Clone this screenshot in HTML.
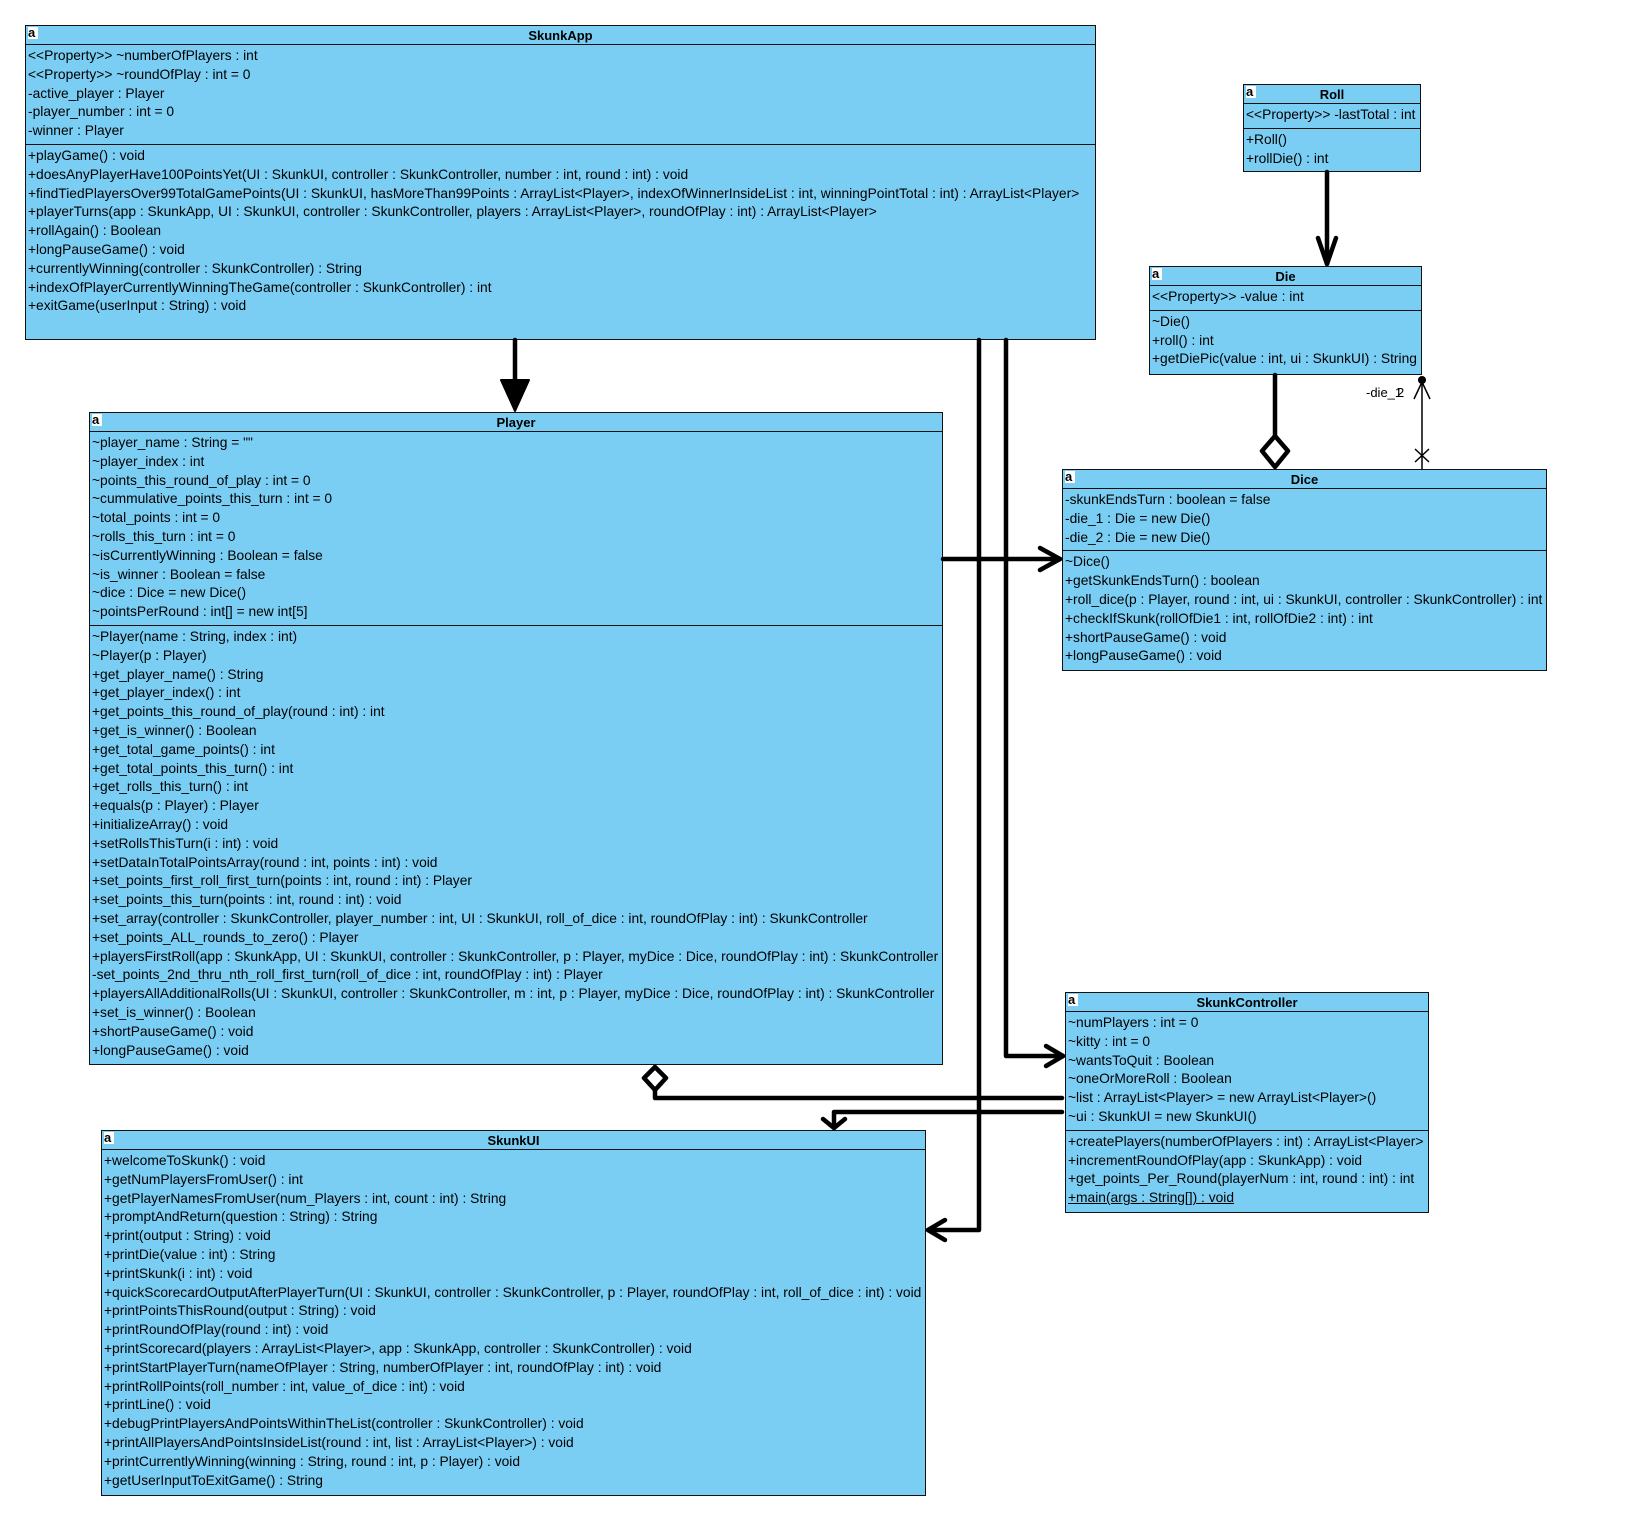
<!DOCTYPE html>
<html><head><meta charset="utf-8"><style>
body{margin:0;width:1639px;height:1533px;background:#fff;position:relative;overflow:hidden;font-family:"Liberation Sans",Arial,sans-serif;}
.c{position:absolute;background:#7ACEF4;border:1px solid #111;box-sizing:border-box;}
.h{height:18px;border-bottom:1px solid #111;text-align:center;font-weight:bold;font-size:13px;line-height:19px;position:relative;}
.h i{position:absolute;left:2px;top:1px;width:10px;height:12px;background:#fff;font-style:normal;font-weight:bold;font-size:13px;line-height:11px;color:#000;text-align:left;}
.s{padding:2px 0 3px 2px;font-size:13.8px;line-height:18.8px;white-space:nowrap;letter-spacing:0px;}
.s+.s{border-top:1px solid #111;}
.s div{height:18.8px;}
u{text-decoration:underline;}
svg{position:absolute;left:0;top:0;}
</style></head><body>

<div class="c" style="left:25px;top:25px;width:1071px;height:315px">
<div class="h"><i>a</i>SkunkApp</div>
<div class="s">
<div>&lt;&lt;Property&gt;&gt; ~numberOfPlayers : int</div>
<div>&lt;&lt;Property&gt;&gt; ~roundOfPlay : int = 0</div>
<div>-active_player : Player</div>
<div>-player_number : int = 0</div>
<div>-winner : Player</div>
</div>
<div class="s">
<div>+playGame() : void</div>
<div>+doesAnyPlayerHave100PointsYet(UI : SkunkUI, controller : SkunkController, number : int, round : int) : void</div>
<div>+findTiedPlayersOver99TotalGamePoints(UI : SkunkUI, hasMoreThan99Points : ArrayList&lt;Player&gt;, indexOfWinnerInsideList : int, winningPointTotal : int) : ArrayList&lt;Player&gt;</div>
<div>+playerTurns(app : SkunkApp, UI : SkunkUI, controller : SkunkController, players : ArrayList&lt;Player&gt;, roundOfPlay : int) : ArrayList&lt;Player&gt;</div>
<div>+rollAgain() : Boolean</div>
<div>+longPauseGame() : void</div>
<div>+currentlyWinning(controller : SkunkController) : String</div>
<div>+indexOfPlayerCurrentlyWinningTheGame(controller : SkunkController) : int</div>
<div>+exitGame(userInput : String) : void</div>
</div>
</div>

<div class="c" style="left:1243px;top:84px;width:178px;height:88px">
<div class="h"><i>a</i>Roll</div>
<div class="s"><div>&lt;&lt;Property&gt;&gt; -lastTotal : int</div></div>
<div class="s"><div>+Roll()</div><div>+rollDie() : int</div></div>
</div>

<div class="c" style="left:1149px;top:266px;width:273px;height:109px">
<div class="h"><i>a</i>Die</div>
<div class="s"><div>&lt;&lt;Property&gt;&gt; -value : int</div></div>
<div class="s"><div>~Die()</div><div>+roll() : int</div><div>+getDiePic(value : int, ui : SkunkUI) : String</div></div>
</div>

<div class="c" style="left:1062px;top:469px;width:485px;height:202px">
<div class="h"><i>a</i>Dice</div>
<div class="s"><div>-skunkEndsTurn : boolean = false</div><div>-die_1 : Die = new Die()</div><div>-die_2 : Die = new Die()</div></div>
<div class="s"><div>~Dice()</div><div>+getSkunkEndsTurn() : boolean</div><div>+roll_dice(p : Player, round : int, ui : SkunkUI, controller : SkunkController) : int</div><div>+checkIfSkunk(rollOfDie1 : int, rollOfDie2 : int) : int</div><div>+shortPauseGame() : void</div><div>+longPauseGame() : void</div></div>
</div>

<div class="c" style="left:89px;top:412px;width:854px;height:653px">
<div class="h"><i>a</i>Player</div>
<div class="s">
<div>~player_name : String = ""</div>
<div>~player_index : int</div>
<div>~points_this_round_of_play : int = 0</div>
<div>~cummulative_points_this_turn : int = 0</div>
<div>~total_points : int = 0</div>
<div>~rolls_this_turn : int = 0</div>
<div>~isCurrentlyWinning : Boolean = false</div>
<div>~is_winner : Boolean = false</div>
<div>~dice : Dice = new Dice()</div>
<div>~pointsPerRound : int[] = new int[5]</div>
</div>
<div class="s">
<div>~Player(name : String, index : int)</div>
<div>~Player(p : Player)</div>
<div>+get_player_name() : String</div>
<div>+get_player_index() : int</div>
<div>+get_points_this_round_of_play(round : int) : int</div>
<div>+get_is_winner() : Boolean</div>
<div>+get_total_game_points() : int</div>
<div>+get_total_points_this_turn() : int</div>
<div>+get_rolls_this_turn() : int</div>
<div>+equals(p : Player) : Player</div>
<div>+initializeArray() : void</div>
<div>+setRollsThisTurn(i : int) : void</div>
<div>+setDataInTotalPointsArray(round : int, points : int) : void</div>
<div>+set_points_first_roll_first_turn(points : int, round : int) : Player</div>
<div>+set_points_this_turn(points : int, round : int) : void</div>
<div>+set_array(controller : SkunkController, player_number : int, UI : SkunkUI, roll_of_dice : int, roundOfPlay : int) : SkunkController</div>
<div>+set_points_ALL_rounds_to_zero() : Player</div>
<div>+playersFirstRoll(app : SkunkApp, UI : SkunkUI, controller : SkunkController, p : Player, myDice : Dice, roundOfPlay : int) : SkunkController</div>
<div>-set_points_2nd_thru_nth_roll_first_turn(roll_of_dice : int, roundOfPlay : int) : Player</div>
<div>+playersAllAdditionalRolls(UI : SkunkUI, controller : SkunkController, m : int, p : Player, myDice : Dice, roundOfPlay : int) : SkunkController</div>
<div>+set_is_winner() : Boolean</div>
<div>+shortPauseGame() : void</div>
<div>+longPauseGame() : void</div>
</div>
</div>

<div class="c" style="left:1065px;top:992px;width:364px;height:221px">
<div class="h"><i>a</i>SkunkController</div>
<div class="s">
<div>~numPlayers : int = 0</div>
<div>~kitty : int = 0</div>
<div>~wantsToQuit : Boolean</div>
<div>~oneOrMoreRoll : Boolean</div>
<div>~list : ArrayList&lt;Player&gt; = new ArrayList&lt;Player&gt;()</div>
<div>~ui : SkunkUI = new SkunkUI()</div>
</div>
<div class="s">
<div>+createPlayers(numberOfPlayers : int) : ArrayList&lt;Player&gt;</div>
<div>+incrementRoundOfPlay(app : SkunkApp) : void</div>
<div>+get_points_Per_Round(playerNum : int, round : int) : int</div>
<div><u>+main(args : String[]) : void</u></div>
</div>
</div>

<div class="c" style="left:101px;top:1130px;width:825px;height:366px">
<div class="h"><i>a</i>SkunkUI</div>
<div class="s">
<div>+welcomeToSkunk() : void</div>
<div>+getNumPlayersFromUser() : int</div>
<div>+getPlayerNamesFromUser(num_Players : int, count : int) : String</div>
<div>+promptAndReturn(question : String) : String</div>
<div>+print(output : String) : void</div>
<div>+printDie(value : int) : String</div>
<div>+printSkunk(i : int) : void</div>
<div>+quickScorecardOutputAfterPlayerTurn(UI : SkunkUI, controller : SkunkController, p : Player, roundOfPlay : int, roll_of_dice : int) : void</div>
<div>+printPointsThisRound(output : String) : void</div>
<div>+printRoundOfPlay(round : int) : void</div>
<div>+printScorecard(players : ArrayList&lt;Player&gt;, app : SkunkApp, controller : SkunkController) : void</div>
<div>+printStartPlayerTurn(nameOfPlayer : String, numberOfPlayer : int, roundOfPlay : int) : void</div>
<div>+printRollPoints(roll_number : int, value_of_dice : int) : void</div>
<div>+printLine() : void</div>
<div>+debugPrintPlayersAndPointsWithinTheList(controller : SkunkController) : void</div>
<div>+printAllPlayersAndPointsInsideList(round : int, list : ArrayList&lt;Player&gt;) : void</div>
<div>+printCurrentlyWinning(winning : String, round : int, p : Player) : void</div>
<div>+getUserInputToExitGame() : String</div>
</div>
</div>

<svg width="1639" height="1533" viewBox="0 0 1639 1533">
<g stroke="#000" stroke-width="4.5" fill="none" stroke-linecap="round" stroke-linejoin="round">
<line x1="515" y1="340" x2="515" y2="382"/>
<polygon points="501,380 529,380 515,411" fill="#000" stroke-width="2"/>
<polyline points="979,340 979,1230 928,1230"/>
<polyline points="945,1220 928,1230 945,1240"/>
<polyline points="1006,340 1006,1056 1063,1056"/>
<polyline points="1046,1046 1063,1056 1046,1066"/>
<line x1="943" y1="559" x2="1060" y2="559"/>
<polyline points="1040,548 1060,559 1040,570"/>
<line x1="1327" y1="172" x2="1327" y2="264"/>
<polyline points="1318,238 1327,264 1336,238"/>
<line x1="1275" y1="375" x2="1275" y2="436"/>
<polygon points="1275,436 1288,451 1275,467 1262,451"/>
<polyline points="1062,1098 655,1098 655,1090"/>
<polygon points="655,1067 666,1078 655,1090 644,1078"/>
<polyline points="1062,1112 834,1112 834,1128"/>
<polyline points="823,1119 834,1128 845,1119"/>
</g>
<g stroke="#000" stroke-width="1.5" fill="none">
<line x1="1422" y1="381" x2="1422" y2="469"/>
<polyline points="1414,399 1422,382 1430,399"/>
<line x1="1415" y1="449" x2="1429" y2="462"/>
<line x1="1429" y1="449" x2="1415" y2="462"/>
</g>
<circle cx="1422" cy="380" r="4" fill="#000"/>
<text x="1366" y="397" font-family="Liberation Sans, Arial, sans-serif" font-size="13">-die_1</text>
<text x="1397" y="397" font-family="Liberation Sans, Arial, sans-serif" font-size="13">2</text>
</svg>
</body></html>
